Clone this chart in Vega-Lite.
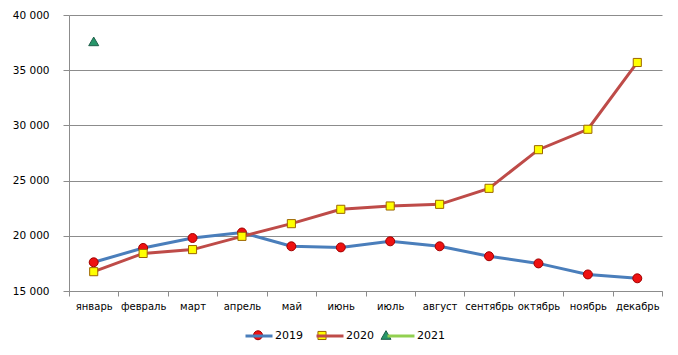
{
  "$schema": "https://vega.github.io/schema/vega-lite/v6.json",
  "autosize": "none",
  "width": 593,
  "height": 276,
  "padding": {"left": 69, "top": 15, "right": 16, "bottom": 64},
  "background": "white",
  "config": {"view": {"stroke": null}, "font": "DejaVu Sans"},
  "data": {
    "values": [
      {"month": "январь", "year": "2019", "value": 17600},
      {"month": "февраль", "year": "2019", "value": 18900},
      {"month": "март", "year": "2019", "value": 19800},
      {"month": "апрель", "year": "2019", "value": 20300},
      {"month": "май", "year": "2019", "value": 19050},
      {"month": "июнь", "year": "2019", "value": 18950},
      {"month": "июль", "year": "2019", "value": 19500},
      {"month": "август", "year": "2019", "value": 19050},
      {"month": "сентябрь", "year": "2019", "value": 18150},
      {"month": "октябрь", "year": "2019", "value": 17500},
      {"month": "ноябрь", "year": "2019", "value": 16500},
      {"month": "декабрь", "year": "2019", "value": 16150},
      {"month": "январь", "year": "2020", "value": 16750},
      {"month": "февраль", "year": "2020", "value": 18400},
      {"month": "март", "year": "2020", "value": 18750},
      {"month": "апрель", "year": "2020", "value": 19950},
      {"month": "май", "year": "2020", "value": 21100},
      {"month": "июнь", "year": "2020", "value": 22400},
      {"month": "июль", "year": "2020", "value": 22700},
      {"month": "август", "year": "2020", "value": 22850},
      {"month": "сентябрь", "year": "2020", "value": 24300},
      {"month": "октябрь", "year": "2020", "value": 27800},
      {"month": "ноябрь", "year": "2020", "value": 29650},
      {"month": "декабрь", "year": "2020", "value": 35700},
      {"month": "январь", "year": "2021", "value": 37550}
    ]
  },
  "encoding": {
    "x": {
      "field": "month",
      "type": "ordinal",
      "sort": ["январь", "февраль", "март", "апрель", "май", "июнь", "июль", "август", "сентябрь", "октябрь", "ноябрь", "декабрь"],
      "scale": {"type": "band", "paddingInner": 0, "paddingOuter": 0},
      "axis": {
        "title": null,
        "labelAngle": 0,
        "tickBand": "extent",
        "tickSize": 5,
        "labelPadding": 5,
        "domainColor": "#8c8c8c",
        "tickColor": "#8c8c8c",
        "labelFontSize": 10,
        "labelColor": "black",
        "grid": false
      }
    },
    "y": {
      "field": "value",
      "type": "quantitative",
      "scale": {"domain": [15000, 40000], "nice": false, "zero": false},
      "axis": {
        "title": null,
        "values": [15000, 20000, 25000, 30000, 35000, 40000],
        "grid": true,
        "gridColor": "#8c8c8c",
        "domainColor": "#8c8c8c",
        "tickColor": "#8c8c8c",
        "tickSize": 6,
        "labelPadding": 14,
        "labelFontSize": 10.5,
        "labelColor": "black",
        "labelExpr": "replace(format(datum.value, ','), ',', ' ')"
      }
    }
  },
  "layer": [
    {
      "mark": {"type": "line", "strokeWidth": 3},
      "encoding": {
        "stroke": {
          "field": "year",
          "type": "nominal",
          "scale": {"domain": ["2019", "2020", "2021"], "range": ["#4a7ebb", "#be4b48", "#92d050"]},
          "legend": {
            "orient": "none",
            "legendX": 175,
            "legendY": 306,
            "direction": "horizontal",
            "title": null,
            "symbolType": "stroke",
            "symbolSize": 729,
            "symbolStrokeWidth": 3,
            "labelFontSize": 11,
            "labelColor": "black",
            "labelOffset": 1,
            "columnPadding": 7
          }
        }
      }
    },
    {
      "mark": {"type": "point", "filled": true, "size": 729, "strokeWidth": 1, "opacity": 1},
      "encoding": {
        "fill": {
          "field": "year",
          "type": "nominal",
          "scale": {"range": ["#ee1111", "#ffff00", "#27966a"]},
          "legend": {
            "orient": "none",
            "legendX": 175,
            "legendY": 306,
            "direction": "horizontal",
            "title": null,
            "symbolSize": 729,
            "symbolStrokeWidth": 1,
            "symbolOpacity": 1,
            "labelFontSize": 11,
            "labelExpr": "''",
            "labelOffset": 1,
            "columnPadding": 35,
            "encode": {
              "symbols": {
                "update": {
                  "stroke": {"signal": "datum.value === '2019' ? '#a00000' : datum.value === '2020' ? '#9c6500' : '#1f5f4a'"}
                }
              }
            }
          }
        },
        "shape": {
          "field": "year",
          "type": "nominal",
          "scale": {"range": [
            "M-0.333,0A0.333,0.333,0,1,1,0.333,0A0.333,0.333,0,1,1,-0.333,0Z",
            "M-0.3,-0.3H0.3V0.3H-0.3Z",
            "M0,-0.37L0.37,0.27L-0.37,0.27Z"
          ]},
          "legend": {
            "orient": "none",
            "legendX": 175,
            "legendY": 306,
            "direction": "horizontal",
            "title": null,
            "symbolSize": 729,
            "symbolStrokeWidth": 1,
            "labelFontSize": 11,
            "labelExpr": "''",
            "labelOffset": 1,
            "columnPadding": 35
          }
        },
        "stroke": {
          "field": "year",
          "type": "nominal",
          "scale": {"range": ["#a00000", "#9c6500", "#1f5f4a"]},
          "legend": null
        }
      }
    }
  ],
  "resolve": {"scale": {"stroke": "independent"}}
}
